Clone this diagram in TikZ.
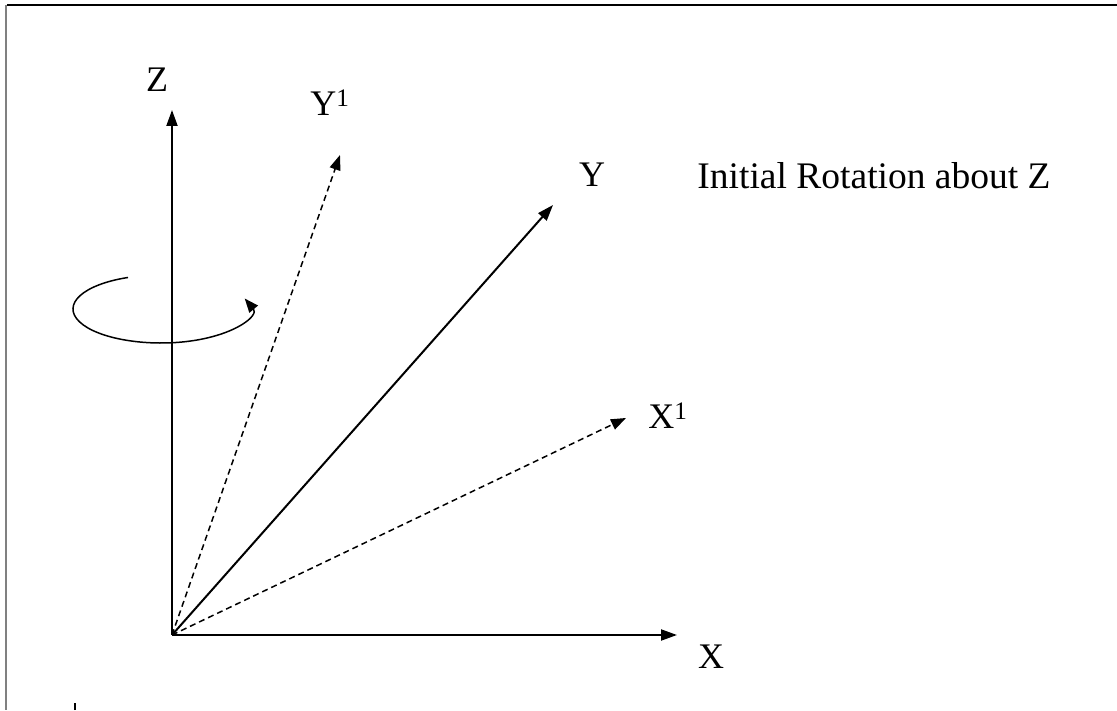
\documentclass[tikz,border=0pt]{standalone}
\usepackage{fontspec}
\setmainfont{Liberation Serif}
\usetikzlibrary{arrows.meta}
\begin{document}
\begin{tikzpicture}[x=1pt,y=1pt,
  axis/.style={line width=2pt,-{Triangle[length=16pt,width=11pt]}},
  dashaxis/.style={line width=1.5pt,dash pattern=on 6pt off 4pt,-{Triangle[length=15pt,width=11pt]}},
  lbl/.style={font=\fontsize{36}{40}\selectfont,inner sep=0pt},
  frame/.style={line width=2pt}]
\useasboundingbox (0,0) rectangle (1117,710);
% frame
\draw[frame] (7,705) -- (1117,705);
\draw[frame,gray] (6,705) -- (6,0);
\draw[line width=2pt] (75,0) -- (75,7);
% points
\coordinate (O) at (172,75);
\coordinate (Zt) at (172,600);
\coordinate (Xt) at (677,75);
\coordinate (Yt) at (553,505);
\coordinate (Y1t) at (340,555);
\coordinate (X1t) at (626,292);
\coordinate (C) at (161,401);
% axes
\draw[axis] (O) -- (Zt);
\draw[axis] (O) -- (Xt);
\draw[axis] (O) -- (Yt);
\draw[dashaxis] (O) -- (Y1t);
\draw[dashaxis] (O) -- (X1t);
% rotation arrow
\draw[line width=1.5pt,-{Triangle[length=14pt,width=11pt]}] (C) ++(112:88 and 34) arc[start angle=112,end angle=378,x radius=88,y radius=34];
% labels
\node[lbl] (Zl) at (157,630) {Z};
\node[lbl] (Xl) at (711,53) {X};
\node[lbl] (Yl) at (592,535) {Y};
\node[lbl] (Y1l) at (330,607) {Y\textsuperscript{1}};
\node[lbl] (X1l) at (668,294) {X\textsuperscript{1}};
\node[lbl,font=\fontsize{37.5}{40}\selectfont] (T) at (874,534) {Initial Rotation about Z};
\end{tikzpicture}
\end{document}
